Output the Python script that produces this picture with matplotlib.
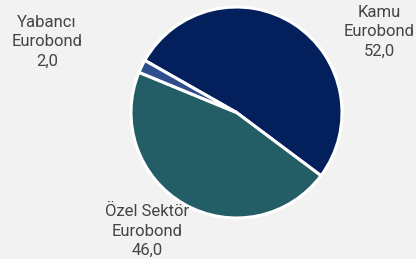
import matplotlib
matplotlib.use("Agg")
import matplotlib.pyplot as plt

categories = ["Kamu\nEurobond", "Özel Sektör\nEurobond", "Yabancı\nEurobond"]
values = [52.0, 46.0, 2.0]
colors = ["#03205c", "#235d66", "#2e4e8e"]

W, H = 416, 259
fig = plt.figure(figsize=(W / 100, H / 100), dpi=100, facecolor="#f2f2f2")
cx, cy, r = 236.5, 112.5, 105.5
ax = fig.add_axes([(cx - r) / W, (H - cy - r) / H, 2 * r / W, 2 * r / H])
ax.set_facecolor("none")
ax.pie(values, colors=colors, startangle=150.4, counterclock=False, radius=1,
       wedgeprops=dict(edgecolor="white", linewidth=2.2))
ax.set_xlim(-1.0, 1.0)
ax.set_ylim(-1.0, 1.0)
ax.set_aspect("auto")
ax.axis("off")

label_pos = [(379, 32), (147, 231), (47, 42)]
for cat, v, (px, py) in zip(categories, values, label_pos):
    txt = cat + "\n" + f"{v:.1f}".replace(".", ",")
    fig.text(px / W, 1 - py / H, txt, ha="center", va="center", fontsize=12,
             color="#444444", family="Roboto", linespacing=1.38)

fig.savefig("out.png", dpi=100, facecolor=fig.get_facecolor())
